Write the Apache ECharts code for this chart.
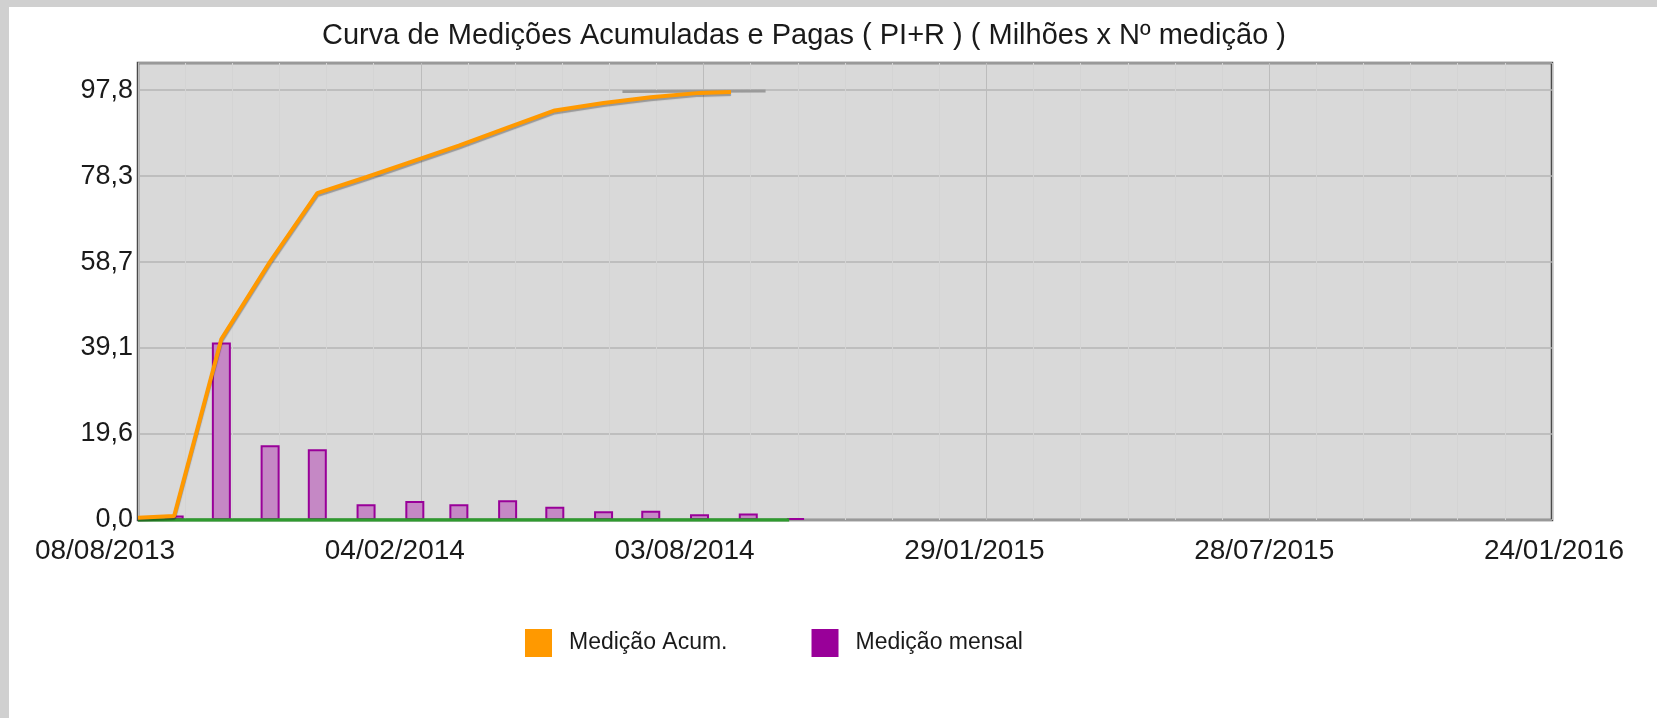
<!DOCTYPE html>
<html><head><meta charset="utf-8">
<script src="https://cdn.jsdelivr.net/npm/echarts@6/dist/echarts.min.js"></script>
<style>
html,body{margin:0;padding:0;background:#fff;}
#frame{position:relative;width:1657px;height:718px;overflow:hidden;background:#fff;}
#chart{position:absolute;left:0;top:0;width:1657px;height:718px;}
.strip{position:absolute;background:#d0d0d0;}
</style></head><body>
<div id="frame"><div id="chart"></div>
<div class="strip" style="left:0;top:0;width:1657px;height:7px"></div>
<div class="strip" style="left:0;top:0;width:9px;height:718px"></div>
</div>
<script>
// ---- data ----
const titleText = 'Curva de Medições Acumuladas e Pagas ( PI+R ) ( Milhões x Nº medição )';
const startDate = '2013-08-08';
const endDate = '2016-01-24';
const xTickLabels = ['08/08/2013', '04/02/2014', '03/08/2014', '29/01/2015', '28/07/2015', '24/01/2016'];
const yTickLabels = ['0,0', '19,6', '39,1', '58,7', '78,3', '97,8'];
const yTopTick = 97.83;
const yMax = 104;

const barDates = ['2013-08-31', '2013-09-30', '2013-10-31', '2013-11-30', '2013-12-31', '2014-01-31', '2014-02-28',
                  '2014-03-31', '2014-04-30', '2014-05-31', '2014-06-30', '2014-07-31', '2014-08-31', '2014-09-30'];
const barValues = [1.0, 40.4, 17.0, 16.1, 3.6, 4.3, 3.6, 4.5, 3.0, 2.0, 2.1, 1.3, 1.5, 0.4];

const acumDates = ['2013-08-08', '2013-08-31', '2013-09-30', '2013-10-31', '2013-11-30', '2013-12-31', '2014-01-31',
                   '2014-02-28', '2014-03-31', '2014-04-30', '2014-05-31', '2014-06-30', '2014-07-31', '2014-08-20'];
const acumValues = [0.5, 0.9, 41.2, 58.8, 74.4, 78.0, 81.8, 85.2, 89.3, 93.2, 94.9, 96.2, 97.2, 97.4];

const grayDates = ['2014-06-12', '2014-09-11'];
const grayValues = [97.5, 97.6];

const greenDates = ['2013-08-08', '2014-09-26'];
const greenValues = [0, 0];

const blueDates = ['2013-08-08', '2013-08-15'];
const blueValues = [0.5, 0.5];

// ---- helpers ----
function dayOf(s) {
  const p = s.split('-').map(Number);
  const q = startDate.split('-').map(Number);
  return (Date.UTC(p[0], p[1] - 1, p[2]) - Date.UTC(q[0], q[1] - 1, q[2])) / 86400000;
}
function pairs(dates, vals) { return dates.map((d, i) => [dayOf(d), vals[i]]); }

const xMax = dayOf(endDate);
const xInterval = xMax / (xTickLabels.length - 1);
const yInterval = yTopTick / (yTickLabels.length - 1);
const FONT = '"Liberation Sans", Arial, sans-serif';
const xLabelFmt = v => { const i = Math.round(v / xInterval); return Math.abs(v - i * xInterval) < 1e-6 ? (xTickLabels[i] || '') : ''; };

const chart = echarts.init(document.getElementById('chart'));
chart.setOption({
  animation: false,
  backgroundColor: 'transparent',
  title: {
    text: titleText, left: 804, top: 21, padding: 0, textAlign: 'center',
    textStyle: { fontFamily: FONT, fontSize: 29, fontWeight: 'normal', color: '#1a1a1a' }
  },
  legend: {
    left: 525, top: 629, padding: 0, itemWidth: 27, itemHeight: 28, itemGap: 84, icon: 'rect',
    textStyle: { fontFamily: FONT, fontSize: 23, color: '#1a1a1a', padding: [0, 0, 0, 12] },
    data: [
      { name: 'Medição Acum.', itemStyle: { color: '#ff9900', borderWidth: 0 } },
      { name: 'Medição mensal', itemStyle: { color: '#990099', borderWidth: 0 } }
    ]
  },
  grid: [
    {
      left: 138, right: 105, top: 63, bottom: 198, show: true,
      backgroundColor: '#d9d9d9', borderColor: '#4a4a4a', borderWidth: 2.5
    },
    { left: 105, right: 103, top: 63, bottom: 198, show: false }
  ],
  xAxis: [
    {
      gridIndex: 0, type: 'value', min: 0, max: xMax, interval: xInterval,
      axisLine: { show: false }, axisTick: { show: false }, axisLabel: { show: false },
      splitLine: { show: true, lineStyle: { color: '#bcbcbc', width: 1 } },
      minorTick: { show: false, splitNumber: 6 },
      minorSplitLine: { show: true, lineStyle: { color: '#d4d4d4', width: 1 } }
    },
    {
      gridIndex: 1, type: 'value', min: 0, max: xMax, interval: xInterval,
      axisLine: { show: false }, axisTick: { show: false }, splitLine: { show: false },
      axisLabel: { margin: 17, fontFamily: FONT, fontSize: 28, color: '#1a1a1a', formatter: xLabelFmt }
    }
  ],
  yAxis: [
    {
      gridIndex: 0, type: 'value', min: 0, max: yMax, interval: yInterval,
      axisLine: { show: false }, axisTick: { show: false },
      axisLabel: {
        margin: 5, fontFamily: FONT, fontSize: 27, color: '#1a1a1a',
        formatter: v => { const i = Math.round(v / yInterval); return Math.abs(v - i * yInterval) < 1e-6 ? (yTickLabels[i] || '') : ''; }
      },
      splitLine: { show: true, lineStyle: { color: '#b5b5b5', width: 1.5 } }
    },
    { gridIndex: 1, type: 'value', min: 0, max: yMax, show: false }
  ],
  series: [
    {
      name: 'Medição mensal', type: 'bar', barWidth: 19, z: 2,
      itemStyle: { color: '#c588c5', borderColor: '#990099', borderWidth: 2 },
      data: pairs(barDates, barValues)
    },
    {
      name: 'Green', type: 'line', symbol: 'none', z: 3,
      lineStyle: { color: '#2e9a2e', width: 3.5 },
      data: pairs(greenDates, greenValues)
    },
    {
      name: 'Blue', type: 'line', symbol: 'none', z: 3,
      lineStyle: { color: '#4a6fd0', width: 3 },
      data: pairs(blueDates, blueValues)
    },
    {
      name: 'Gray', type: 'line', symbol: 'none', z: 3,
      lineStyle: { color: '#9a9a9a', width: 3 },
      data: pairs(grayDates, grayValues)
    },
    {
      name: 'Medição Acum.', type: 'line', symbol: 'none', z: 4,
      lineStyle: { color: '#ff9900', width: 4, shadowColor: 'rgba(0,0,0,0.3)', shadowOffsetY: 2, shadowBlur: 1 },
      data: pairs(acumDates, acumValues)
    }
  ]
});
</script>
</body></html>
